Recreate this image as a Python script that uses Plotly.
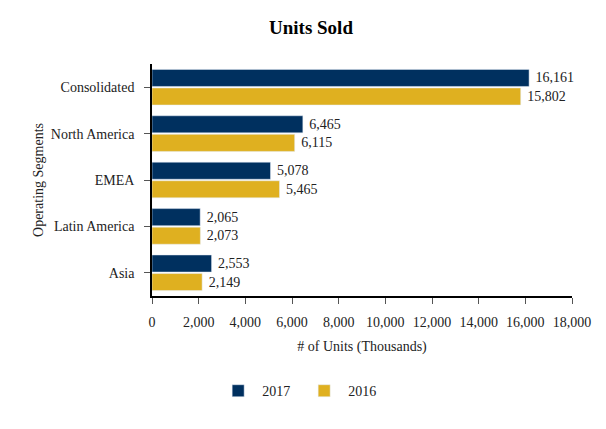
import plotly.graph_objects as go

categories = ["Consolidated", "North America", "EMEA", "Latin America", "Asia"]
units_2017 = [16161, 6465, 5078, 2065, 2553]
units_2016 = [15802, 6115, 5465, 2073, 2149]
tick_vals = [0, 2000, 4000, 6000, 8000, 10000, 12000, 14000, 16000, 18000]

font_family = "Liberation Serif"
fs = 14

fig = go.Figure()
fig.add_trace(go.Bar(
    y=categories, x=units_2017, name="2017", orientation="h",
    marker=dict(color="#00305F"),
    text=[f"\u00a0{v:,}" for v in units_2017], textposition="outside",
    textfont=dict(family=font_family, size=fs, color="#222222"),
    cliponaxis=False,
))
fig.add_trace(go.Bar(
    y=categories, x=units_2016, name="2016", orientation="h",
    marker=dict(color="#DFB020"),
    text=[f"\u00a0{v:,}" for v in units_2016], textposition="outside",
    textfont=dict(family=font_family, size=fs, color="#222222"),
    cliponaxis=False,
))

fig.update_layout(
    width=606, height=429,
    margin=dict(l=144, r=42, t=56, b=141),
    paper_bgcolor="white", plot_bgcolor="white",
    font=dict(family=font_family, size=fs, color="#222222"),
    title=dict(text="<b>Units Sold</b>", x=0.5, xanchor="center", y=0.955, yanchor="middle",
               font=dict(family=font_family, size=19, color="#000000")),
    barmode="group", bargap=0.2, bargroupgap=0.08,
    showlegend=True,
    legend=dict(orientation="h", x=0.148, xanchor="left", y=-0.41, yanchor="middle",
                font=dict(family=font_family, size=fs, color="#222222"),
                entrywidth=33, itemwidth=38),
    xaxis=dict(range=[0, 18000], tickvals=tick_vals, tickformat=",",
               showgrid=False, zeroline=False, showline=True, linecolor="#000000", linewidth=1.5,
               ticks="outside", ticklen=6, tickcolor="#555555", ticklabelstandoff=6,
               automargin=False,
               title=dict(text="# of Units (Thousands)", standoff=13,
                          font=dict(family=font_family, size=fs))),
    yaxis=dict(autorange="reversed", showgrid=False, zeroline=False,
               showline=True, linecolor="#000000", linewidth=1.5,
               ticks="outside", ticklen=6, tickcolor="#555555", ticklabelstandoff=7,
               automargin=False,
               title=dict(text="Operating Segments", standoff=4,
                          font=dict(family=font_family, size=fs))),
)

fig.write_html("out.html")
